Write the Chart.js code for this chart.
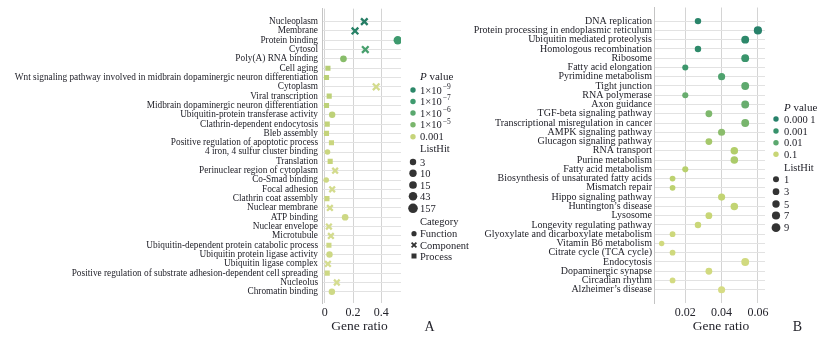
<!DOCTYPE html>
<html><head><meta charset="utf-8">
<script src="https://cdn.jsdelivr.net/npm/chart.js@4/dist/chart.umd.min.js"></script>
<style>
html,body{margin:0;padding:0;background:#fff;}
#wrap{position:relative;width:824px;height:337px;overflow:hidden;background:#fff;}
#c1{position:absolute;left:0;top:0;}
#c2{position:absolute;left:420px;top:0;}
</style></head><body>
<div id="wrap">
<canvas id="c1" width="480" height="337"></canvas>
<canvas id="c2" width="404" height="337"></canvas>
</div>
<script>
// ---------------- Panel A data ----------------
const leftTerms = ["Nucleoplasm","Membrane","Protein binding","Cytosol","Poly(A) RNA binding","Cell aging",
"Wnt signaling pathway involved in midbrain dopaminergic neuron differentiation","Cytoplasm","Viral transcription",
"Midbrain dopaminergic neuron differentiation","Ubiquitin-protein transferase activity","Clathrin-dependent endocytosis",
"Bleb assembly","Positive regulation of apoptotic process","4 iron, 4 sulfur cluster binding","Translation",
"Perinuclear region of cytoplasm","Co-Smad binding","Focal adhesion","Clathrin coat assembly","Nuclear membrane",
"ATP binding","Nuclear envelope","Microtubule","Ubiquitin-dependent protein catabolic process",
"Ubiquitin protein ligase activity","Ubiquitin ligase complex",
"Positive regulation of substrate adhesion-dependent cell spreading","Nucleolus","Chromatin binding"];
const leftRatio = [0.280,0.214,0.517,0.287,0.132,0.022,0.012,0.364,0.031,0.012,0.052,0.017,0.012,0.047,0.019,
0.038,0.073,0.010,0.052,0.015,0.036,0.144,0.029,0.043,0.029,0.033,0.022,0.017,0.085,0.050];
const leftListHit = [43,43,157,43,15,3,3,43,3,3,10,3,3,3,3,3,10,3,10,3,10,15,10,10,3,10,10,3,10,10];
const leftP = [1e-10,3e-10,1e-7,2.5e-7,2.5e-5,4e-4,5e-4,2.5e-3,6e-4,6e-4,6e-4,8e-4,9e-4,1.3e-3,1.3e-3,1e-3,
2.5e-3,1.6e-3,2.5e-3,1.3e-3,2.5e-3,1.6e-3,2.5e-3,2.5e-3,1.6e-3,1.6e-3,3e-3,1.6e-3,3e-3,1.8e-3];
const leftCategory = ["Component","Component","Function","Component","Function","Process","Process","Component",
"Process","Process","Function","Process","Process","Process","Function","Process","Component","Function","Component",
"Process","Component","Function","Component","Component","Process","Function","Component","Process","Component","Function"];
const leftXTicks = [0, 0.2, 0.4];
const leftPLegend = [1e-9, 1e-7, 1e-6, 1e-5, 0.001];
const leftPLegendExp = ["\u22129","\u22127","\u22126","\u22125"];
const leftHitLegend = [3, 10, 15, 43, 157];
const categoryLegend = ["Function","Component","Process"];

// ---------------- Panel B data ----------------
const rightTerms = ["DNA replication","Protein processing in endoplasmic reticulum","Ubiquitin mediated proteolysis",
"Homologous recombination","Ribosome","Fatty acid elongation","Pyrimidine metabolism","Tight junction","RNA polymerase",
"Axon guidance","TGF-beta signaling pathway","Transcriptional misregulation in cancer","AMPK signaling pathway",
"Glucagon signaling pathway","RNA transport","Purine metabolism","Fatty acid metabolism",
"Biosynthesis of unsaturated fatty acids","Mismatch repair","Hippo signaling pathway","Huntington\u2019s disease",
"Lysosome","Longevity regulating pathway","Glyoxylate and dicarboxylate metabolism","Vitamin B6 metabolism",
"Citrate cycle (TCA cycle)","Endocytosis","Dopaminergic synapse","Circadian rhythm","Alzheimer\u2019s disease"];
const rightRatio = [0.027,0.060,0.053,0.027,0.053,0.020,0.040,0.053,0.020,0.053,0.033,0.053,0.040,0.033,0.047,0.047,
0.020,0.013,0.013,0.040,0.047,0.033,0.027,0.013,0.007,0.013,0.053,0.033,0.013,0.040];
const rightListHit = [4,9,8,4,8,3,6,8,3,8,5,8,6,5,7,7,3,2,2,6,7,5,4,2,1,2,8,5,2,6];
const rightP = [1.6e-4,1e-4,2.5e-4,3.2e-4,1.6e-3,2e-3,6.3e-3,0.011,0.016,0.016,0.025,0.022,0.032,0.05,0.063,0.056,
0.071,0.079,0.079,0.089,0.089,0.1,0.105,0.112,0.126,0.12,0.126,0.126,0.132,0.141];
const rightXTicks = [0.02, 0.04, 0.06];
const rightPLegend = [0.0001, 0.001, 0.01, 0.1];
const rightPLegendText = ["0.000 1","0.001","0.01","0.1"];
const rightHitLegend = [1, 3, 5, 7, 9];

// ---------------- styles ----------------
const SERIF = '"Liberation Serif","Times New Roman",serif';
const TXT = '#23232b';
const leftStops = [[2.5,'#d6dd92'],[3,'#c6d47a'],[4.5,'#8cbf6a'],[5,'#7ab66c'],[6,'#5aa86e'],[7,'#3e9a6e'],[9,'#2c8869'],[10,'#267d65']];
const rightStops = [[0.85,'#d6dc84'],[1.0,'#c8d676'],[1.2,'#b2ce6a'],[1.5,'#8abd6c'],[1.8,'#68ad6e'],[2.2,'#4ea26e'],[2.8,'#3a956c'],[3.5,'#2e8a6a'],[4,'#27816a']];
function rgb(h){return [parseInt(h.slice(1,3),16),parseInt(h.slice(3,5),16),parseInt(h.slice(5,7),16)];}
function colorFor(stops, p){
  const v = -Math.log10(p);
  if (v <= stops[0][0]) return stops[0][1];
  for (let i=1;i<stops.length;i++){
    if (v <= stops[i][0]){
      const t=(v-stops[i-1][0])/(stops[i][0]-stops[i-1][0]);
      const a=rgb(stops[i-1][1]), b=rgb(stops[i][1]);
      return 'rgb('+a.map((c,k)=>Math.round(c+(b[k]-c)*t)).join(',')+')';
    }
  }
  return stops[stops.length-1][1];
}
const leftR = n => 2.4 + 0.35*Math.log(n);
const rightR = n => 2.7 + 0.175*(n-1);
const styleOf = c => c==='Function' ? 'circle' : (c==='Component' ? 'crossRot' : 'rect');
const mult = c => c==='Function' ? 1 : (c==='Component' ? 1.25 : 1.3);

function font(size, style){ return (style?style+' ':'') + size + 'px ' + SERIF; }
function txt(ctx, s, x, y, size, align, style){
  ctx.save(); ctx.font = font(size, style); ctx.fillStyle = TXT; ctx.textAlign = align||'left';
  ctx.textBaseline = 'middle'; ctx.fillText(s, x, y); ctx.restore();
}
function dot(ctx, x, y, r, c){ ctx.save(); ctx.fillStyle=c; ctx.beginPath(); ctx.arc(x,y,r,0,Math.PI*2); ctx.fill(); ctx.restore(); }
function pTitle(ctx, x, y){
  ctx.save(); ctx.font = font(11,'italic'); const w = ctx.measureText('P').width; ctx.restore();
  txt(ctx,'P',x,y,11,'left','italic'); txt(ctx,' value',x+w,y,11,'left');
}

const legendA = {
  id:'legendA',
  afterDraw(chart){
    const ctx = chart.ctx;
    const dx = 413, tx = 420;
    pTitle(ctx, tx, 77);
    const py = [90, 101.5, 113, 124.7, 136.7];
    leftPLegend.forEach((p,i)=>{
      dot(ctx, dx, py[i], 2.7, colorFor(leftStops, p));
      if (i < leftPLegendExp.length){
        txt(ctx,'1\u00d710',tx,py[i]+1,10.5,'left');
        ctx.save(); ctx.font=font(10.5); const w=ctx.measureText('1\u00d710').width; ctx.restore();
        txt(ctx,leftPLegendExp[i],tx+w+1,py[i]-3,7.5,'left');
      } else txt(ctx,String(p),tx,py[i]+1,10.5,'left');
    });
    txt(ctx,'ListHit',tx,149.5,10.5,'left');
    const hy = [162,173.3,185,196.3,208.3];
    leftHitLegend.forEach((n,i)=>{ dot(ctx, dx, hy[i], leftR(n)*1.15, '#333'); txt(ctx,String(n),tx,hy[i]+1,10.5,'left'); });
    txt(ctx,'Category',tx,222.7,10.5,'left');
    const cy = [233.7,245,256];
    categoryLegend.forEach((c,i)=>{
      const x = 414, y = cy[i];
      ctx.save(); ctx.fillStyle='#333'; ctx.strokeStyle='#333';
      if (c==='Function'){ ctx.beginPath(); ctx.arc(x,y,2.6,0,Math.PI*2); ctx.fill(); }
      else if (c==='Component'){ ctx.lineWidth=1.8; ctx.beginPath(); ctx.moveTo(x-2.4,y-2.4); ctx.lineTo(x+2.4,y+2.4); ctx.moveTo(x+2.4,y-2.4); ctx.lineTo(x-2.4,y+2.4); ctx.stroke(); }
      else { ctx.fillRect(x-2.5,y-2.5,5,5); }
      ctx.restore();
      txt(ctx,c,tx,y+1,10.5,'left');
    });
    txt(ctx,'Gene ratio',359.5,326.5,13.5,'center');
    txt(ctx,'A',429.5,327,14,'center');
  }
};
const legendB = {
  id:'legendB',
  afterDraw(chart){
    const ctx = chart.ctx;
    const dx = 356, tx = 364;
    pTitle(ctx, tx, 107.7);
    const py = [119,131,142.7,154.3];
    rightPLegend.forEach((p,i)=>{ dot(ctx,dx,py[i],2.7,colorFor(rightStops,p)); txt(ctx,rightPLegendText[i],tx,py[i]+1,10.5,'left'); });
    txt(ctx,'ListHit',tx,168.3,10.5,'left');
    const hy = [179.3,191.7,204,215.5,227.7];
    rightHitLegend.forEach((n,i)=>{ dot(ctx,dx,hy[i],rightR(n)+0.3,'#333'); txt(ctx,String(n),tx,hy[i]+1,10.5,'left'); });
    txt(ctx,'Gene ratio',301,326.5,13.5,'center');
    txt(ctx,'B',377.5,327,14,'center');
  }
};

function baseScales(terms, ymin, ymax, yw, xmin, xmax, xticks, fsize, pad){
  return {
    x: {
      type:'linear', min:xmin, max:xmax,
      afterBuildTicks: s => { s.ticks = xticks.map(v=>({value:v})); },
      afterFit: s => { s.height = 31; },
      ticks: { padding:3, color:TXT, font:{family:SERIF, size:12}, callback: v => String(v) },
      grid: { color:'#d4d4d4', drawTicks:false, lineWidth:1 },
      border: { display:false }
    },
    y: {
      type:'linear', reverse:true, min:ymin, max:ymax,
      afterBuildTicks: s => { s.ticks = terms.map((t,i)=>({value:i})); },
      afterFit: s => { s.width = yw; },
      ticks: { autoSkip:false, padding:pad, color:TXT, font:{family:SERIF, size:fsize, lineHeight:1}, callback: v => terms[v] },
      grid: { color:'#e2e2e2', drawTicks:false },
      border: { display:true, color:'#c4c4c4' }
    }
  };
}

new Chart(document.getElementById('c1'), {
  type:'scatter',
  data:{ datasets:[{
    data: leftRatio.map((r,i)=>({x:r, y:i})),
    pointStyle: c => styleOf(leftCategory[c.dataIndex]),
    pointRadius: c => leftR(leftListHit[c.dataIndex]) * mult(leftCategory[c.dataIndex]),
    backgroundColor: c => colorFor(leftStops, leftP[c.dataIndex]),
    borderColor: c => colorFor(leftStops, leftP[c.dataIndex]),
    pointBorderWidth: c => leftCategory[c.dataIndex]==='Component' ? 2.3 : 0
  }]},
  options:{
    responsive:false, animation:false, devicePixelRatio:1, events:[],
    layout:{ padding:{ left:0, right:79, top:7, bottom:3 } },
    plugins:{ legend:{display:false}, tooltip:{enabled:false} },
    scales: baseScales(leftTerms, -1.39, 30.2, 322, -0.02, 0.54, leftXTicks, 9.3, 4)
  },
  plugins:[legendA]
});

new Chart(document.getElementById('c2'), {
  type:'scatter',
  data:{ datasets:[{
    data: rightRatio.map((r,i)=>({x:r, y:i})),
    pointStyle:'circle',
    pointRadius: c => rightR(rightListHit[c.dataIndex]),
    backgroundColor: c => colorFor(rightStops, rightP[c.dataIndex]),
    borderColor: c => colorFor(rightStops, rightP[c.dataIndex]),
    pointBorderWidth: 0
  }]},
  options:{
    responsive:false, animation:false, devicePixelRatio:1, events:[],
    layout:{ padding:{ left:0, right:59, top:7, bottom:3 } },
    plugins:{ legend:{display:false}, tooltip:{enabled:false} },
    scales: baseScales(rightTerms, -1.47, 30.43, 234.5, 0.00305, 0.0639, rightXTicks, 10, 2.5)
  },
  plugins:[legendB]
});
</script>
</body></html>
